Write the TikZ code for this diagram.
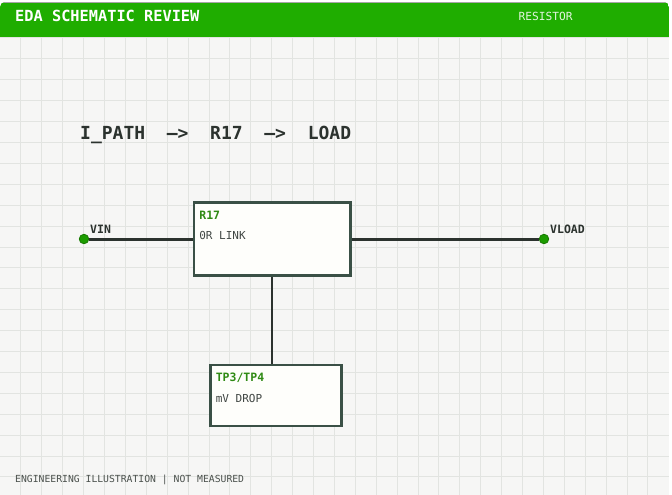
\documentclass[tikz,border=0pt]{standalone}
\usepackage{fontspec}
\setmonofont{DejaVu Sans Mono}
\usepackage{xcolor}
\usetikzlibrary{positioning}
\definecolor{headgreen}{HTML}{1FAD00}
\definecolor{tagreen}{HTML}{2F8A14}
\definecolor{boxline}{HTML}{3A5046}
\definecolor{inkdark}{HTML}{2B322E}
\definecolor{sheetbg}{HTML}{F6F6F5}
\definecolor{gridline}{HTML}{E2E4E1}
\definecolor{boxfill}{HTML}{FEFEFB}
\newcommand{\pxfont}[1]{\fontsize{#1}{#1}\selectfont\ttfamily}

\begin{document}
\begin{tikzpicture}[
  x=1pt, y=-1pt, line join=miter,
  txt/.style={inner sep=0pt, anchor=base west, text=inkdark},
  netline/.style={draw=inkdark, line width=3pt},
  blk/.style={draw=boxline, fill=boxfill, line width=2.8pt, inner sep=0pt},
  pin/.style={circle, draw=headgreen!70!black, fill=headgreen!90!black, line width=.8pt, minimum size=9.5pt, inner sep=0pt},
  tag/.style={txt, font=\pxfont{11.5}\bfseries, text=tagreen},
  sub/.style={txt, font=\pxfont{11}, text=inkdark!90!white}]
  \useasboundingbox (0,0) rectangle (672,495);
  \fill[white] (0,0) rectangle (672,495);
  % sheet and grid
  \begin{scope}
    \clip[rounded corners=5pt] (0,2) rectangle (669,500);
    \fill[sheetbg] (0,2) rectangle (669,500);
    \foreach \k in {1,...,31} \draw[gridline, line width=1pt] ({20.9*\k},37) -- ({20.9*\k},495);
    \foreach \k in {0,...,22} \draw[gridline, line width=1pt] (0,{38+20.9*\k}) -- (669,{38+20.9*\k});
    \fill[headgreen] (0,2) rectangle (669,37);
    \draw[gray!70, line width=.8pt] (0,2.6) -- (669,2.6);
  \end{scope}
  \node[txt, text=white, font=\pxfont{15.3}\bfseries] (title) at (15,22) {EDA SCHEMATIC REVIEW};
  \node[txt, text=white!88!headgreen, font=\pxfont{11.2}] (kind) at (518.5,20.5) {RESISTOR};
  \node[txt, font=\pxfont{18}\bfseries] (path) at (80,139) {I\_PATH\ \ –>\ \ R17\ \ –>\ \ LOAD};
  % blocks
  \node[blk, minimum width=156.5pt, minimum height=73pt] (r17) at (272.3,239) {};
  \node[blk, minimum width=131pt, minimum height=61pt] (tp) at (276,395.5) {};
  \node[tag] (r17tag) at ([xshift=6.5pt,yshift=-18pt]r17.north west) {R17};
  \node[sub] (r17sub) at ([yshift=-20.5pt]r17tag.base west) {0R LINK};
  \node[tag] (tptag) at ([xshift=6.5pt,yshift=-18pt]tp.north west) {TP3/TP4};
  \node[sub] (tpsub) at ([yshift=-20.5pt]tptag.base west) {mV DROP};
  % terminals
  \node[pin] (vin) at (84,239) {};
  \node[pin] (vload) at (544,239) {};
  \node[txt, font=\pxfont{11.5}\bfseries] (vinlab) at (90,233.5) {VIN};
  \node[txt, font=\pxfont{11.5}\bfseries] (vloadlab) at (550,233.5) {VLOAD};
  \draw[netline] (vin) -- (r17);
  \draw[netline] (r17) -- (vload);
  \draw[draw=inkdark, line width=1.8pt] (r17.south) -- (r17.south |- tp.north);
  \node[txt, text=inkdark!85!white, font=\pxfont{9.75}] (note) at (15,482) {ENGINEERING ILLUSTRATION | NOT MEASURED};
\end{tikzpicture}
\end{document}
